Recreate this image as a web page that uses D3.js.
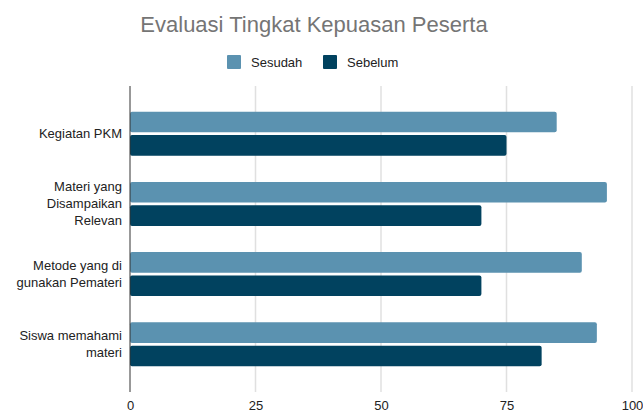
<!DOCTYPE html>
<html>
<head>
<meta charset="utf-8">
<script src="https://cdn.jsdelivr.net/npm/d3@7"></script>
<style>
  body { margin: 0; background: #fff; }
  svg { display: block; font-family: "Liberation Sans", Arial, sans-serif; }
</style>
</head>
<body>
<svg id="chart" width="643" height="414"></svg>
<script>
const categories = [
  ['Kegiatan PKM'],
  ['Materi yang', 'Disampaikan', 'Relevan'],
  ['Metode yang di', 'gunakan Pemateri'],
  ['Siswa memahami', 'materi']
]
const seriesNames = ['Sesudah', 'Sebelum']
const sesudah = [85, 95, 90, 93]
const sebelum = [75, 70, 70, 82]
const ticks = [0, 25, 50, 75, 100]
const colors = ['#5b92b0', '#01425f']

const rows = categories.map((c, i) => ({ label: c, values: [sesudah[i], sebelum[i]] }))

const svg = d3.select('#chart')
const area = { left: 130, right: 632, top: 86, bottom: 392 }

const x = d3.scaleLinear().domain([0, 100]).range([area.left, area.right])

const y = d3.scaleBand()
  .domain(d3.range(rows.length))
  .range([area.top, area.bottom])
  .paddingInner(0.373)
  .paddingOuter(0.366)

const ySub = d3.scaleBand()
  .domain(d3.range(seriesNames.length))
  .range([0, y.bandwidth()])
  .paddingInner(0.12)

// title
svg.append('text')
  .attr('x', 314)
  .attr('y', 32)
  .attr('text-anchor', 'middle')
  .attr('fill', '#757575')
  .style('font-size', '22px')
  .text('Evaluasi Tingkat Kepuasan Peserta')

// legend
const legendPos = [227, 323]
const legend = svg.append('g')
  .selectAll('g')
  .data(seriesNames)
  .join('g')
  .attr('transform', (d, i) => `translate(${legendPos[i]},55)`)
legend.append('rect')
  .attr('width', 14)
  .attr('height', 14)
  .attr('rx', 1)
  .attr('fill', (d, i) => colors[i])
legend.append('text')
  .attr('x', 24)
  .attr('y', 12)
  .attr('fill', '#222')
  .style('font-size', '13px')
  .text(d => d)

// gridlines
svg.append('g')
  .selectAll('line')
  .data(ticks.slice(1))
  .join('line')
  .attr('x1', d => x(d))
  .attr('x2', d => x(d))
  .attr('y1', area.top)
  .attr('y2', area.bottom)
  .attr('stroke', '#e0e0e0')
  .attr('stroke-width', 1.5)

// x tick labels
const xAxis = svg.append('g')
  .attr('transform', `translate(0,${area.bottom})`)
  .call(d3.axisBottom(x).tickValues(ticks).tickSize(0).tickPadding(9))
xAxis.select('.domain').remove()
xAxis.selectAll('text')
  .attr('fill', '#222')
  .style('font-size', '13px')
  .style('font-family', '"Liberation Sans", Arial, sans-serif')

// bars
const group = svg.append('g')
  .selectAll('g')
  .data(rows)
  .join('g')
  .attr('transform', (d, i) => `translate(0,${y(i)})`)

group.selectAll('rect')
  .data(d => d.values)
  .join('rect')
  .attr('x', x(0))
  .attr('y', (d, i) => ySub(i))
  .attr('width', d => x(d) - x(0))
  .attr('height', ySub.bandwidth())
  .attr('rx', 2)
  .attr('fill', (d, i) => colors[i])

// category labels
const lineH = 17
group.append('text')
  .attr('text-anchor', 'end')
  .attr('fill', '#222')
  .style('font-size', '13px')
  .selectAll('tspan')
  .data(d => d.label.map((t, j) => ({ t, j, n: d.label.length })))
  .join('tspan')
  .attr('x', 122)
  .attr('y', d => y.bandwidth() / 2 + (d.j - (d.n - 1) / 2) * lineH + 4.5)
  .text(d => d.t)

// zero axis line
svg.append('line')
  .attr('x1', x(0))
  .attr('x2', x(0))
  .attr('y1', area.top)
  .attr('y2', area.bottom)
  .attr('stroke', '#333')
  .attr('stroke-width', 1)
</script>
</body>
</html>
